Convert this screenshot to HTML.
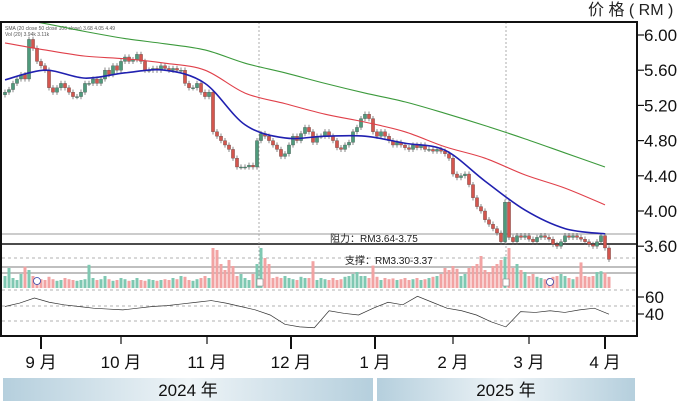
<!DOCTYPE html>
<html><head><meta charset="utf-8">
<style>
html,body{margin:0;padding:0;background:#fff;}
svg{display:block;font-family:"Liberation Sans","Noto Sans CJK SC",sans-serif;}
</style></head>
<body>
<svg id="chart" width="681" height="401" viewBox="0 0 681 401">
<defs>
<linearGradient id="yb" x1="0" x2="1" y1="0" y2="0">
<stop offset="0" stop-color="#b5cfdd"/><stop offset="0.5" stop-color="#eef4f7"/><stop offset="1" stop-color="#b5cfdd"/>
</linearGradient>
<clipPath id="pc"><rect x="2" y="22" width="635" height="268"/></clipPath>
</defs>
<text x="588" y="15" font-size="16" fill="#222">价 格 ( RM )</text>
<g id="grid"></g>
<g id="vol"></g>
<g id="candles" clip-path="url(#pc)"></g>
<g id="mas" clip-path="url(#pc)"></g>
<g id="rsi"></g>
<g id="axes"></g>
</svg>
<script>
const closes=[5.35,5.38,5.45,5.5,5.55,5.5,5.95,5.85,5.7,5.65,
5.6,5.4,5.35,5.4,5.45,5.4,5.35,5.3,5.3,5.35,
5.45,5.45,5.5,5.45,5.5,5.6,5.55,5.65,5.6,5.7,
5.75,5.7,5.72,5.78,5.7,5.6,5.6,5.62,5.6,5.65,
5.62,5.6,5.62,5.6,5.6,5.45,5.4,5.4,5.45,5.35,
5.3,5.35,4.9,4.85,4.8,4.75,4.7,4.6,4.5,4.5,
4.5,4.52,4.5,4.8,4.88,4.85,4.8,4.75,4.7,4.62,
4.65,4.75,4.85,4.8,4.88,4.95,4.9,4.78,4.85,4.85,
4.9,4.85,4.8,4.72,4.7,4.75,4.78,4.9,4.95,5.05,
5.1,5.05,4.9,4.85,4.9,4.85,4.8,4.75,4.78,4.75,
4.72,4.7,4.75,4.72,4.75,4.7,4.7,4.68,4.7,4.68,
4.65,4.6,4.42,4.38,4.4,4.42,4.3,4.15,4.05,4.0,
3.9,3.85,3.8,3.75,3.65,4.1,3.7,3.65,3.72,3.7,
3.72,3.68,3.65,3.7,3.72,3.7,3.68,3.62,3.6,3.65,
3.72,3.7,3.72,3.7,3.68,3.65,3.62,3.6,3.65,3.72,
3.58,3.45];
const volumes=[30,50,25,20,35,53,45,30,25,22,
20,28,22,18,20,25,22,20,18,20,
22,58,25,20,22,30,22,18,20,25,
22,18,20,25,20,18,22,20,18,20,
22,20,25,22,30,28,20,18,22,25,
30,25,100,95,60,45,70,55,30,35,
25,20,35,60,100,75,60,25,28,25,
30,25,22,20,28,25,25,67,20,25,
22,20,25,20,22,28,30,35,40,30,
30,25,56,28,20,25,22,24,20,22,
25,20,22,25,20,22,25,28,30,35,
50,45,55,48,30,35,50,55,60,80,
45,40,55,60,70,78,100,50,60,45,
40,30,35,28,25,22,25,28,30,35,
30,25,22,28,64,30,28,30,40,42,
38,28];
const maBlue=[5.49,5.6,5.51,5.57,5.6,5.45,4.98,4.83,4.85,4.85,4.77,4.69,4.34,4.01,3.8,3.74];
const maRed=[5.91,5.83,5.76,5.73,5.68,5.6,5.34,5.22,5.1,5.01,4.9,4.73,4.6,4.41,4.26,4.07];
const maGreen=[6.2,6.13,6.04,5.96,5.9,5.83,5.68,5.57,5.45,5.34,5.24,5.11,4.97,4.82,4.66,4.5];
const rsiVals=[50,54,60,55,52,50,48,47,46,48,50,51,53,55,57,54,50,46,40,29,26,25,45,42,40,48,55,52,62,55,48,45,40,32,26,44,43,45,43,46,48,41];
const priceTicks=["6.00","5.60","5.20","4.80","4.40","4.00","3.60"];
const priceTickVals=[6.0,5.6,5.2,4.8,4.4,4.0,3.6];
const rsiTicks=["60","40"];
const rsiTickVals=[60,40];
const months=["9 月","10 月","11 月","12 月","1 月","2 月","3 月","4 月"];
const monthIdx=[9,29,50.5,71.5,92.5,112,131,150];

const NS="http://www.w3.org/2000/svg";
function mk(tag,attrs,parent){const e=document.createElementNS(NS,tag);for(const k in attrs)e.setAttribute(k,attrs[k]);parent.appendChild(e);return e;}
const xOf=i=>5+i*4;
const yP=p=>35+(6-p)*88;
const yV=v=>288-v*0.4;
const yR=r=>306.5-(r-50)*0.85;
const G=id=>document.getElementById(id);
function smoothPath(pts){
 let d='M'+pts[0][0]+','+pts[0][1];
 for(let i=0;i<pts.length-1;i++){
  const p0=pts[i-1]||pts[i],p1=pts[i],p2=pts[i+1],p3=pts[i+2]||p2;
  const c1=[p1[0]+(p2[0]-p0[0])/6,p1[1]+(p2[1]-p0[1])/6];
  const c2=[p2[0]-(p3[0]-p1[0])/6,p2[1]-(p3[1]-p1[1])/6];
  d+=' C'+c1.join(',')+' '+c2.join(',')+' '+p2.join(',');
 }
 return d;
}

const grid=G('grid');
[[234,"#777",0.8],[244,"#111",1.6],[267,"#555",0.8],[273,"#555",0.8]].forEach(l=>{
 const e=mk('line',{x1:0,x2:637,y1:l[0],y2:l[0],stroke:l[1],'stroke-width':l[2]},grid);
 
 
});
[258,290,306,321].forEach(y=>{
 const e=mk('line',{x1:2,x2:637,y1:y,y2:y,stroke:'#999','stroke-width':0.7,'stroke-dasharray':'3,3'},grid);
 
 
});
[259,506].forEach(x=>{
 const e=mk('line',{x1:x,x2:x,y1:22,y2:290,stroke:'#999','stroke-width':0.8,'stroke-dasharray':'2,2'},grid);
 
 
});
let t=mk('text',{x:330,y:242,'font-size':10,fill:'#222'},grid);t.textContent='阻力：RM3.64-3.75';


t=mk('text',{x:345,y:264,'font-size':10,fill:'#222'},grid);t.textContent='支撑：RM3.30-3.37';


t=mk('text',{x:5,y:30,'font-size':5,fill:'#555'},grid);t.textContent='SMA (20 close 50 close 100 close) 3.68 4.05 4.49';


t=mk('text',{x:5,y:36,'font-size':5,fill:'#555'},grid);t.textContent='Vol (20) 3.94k 3.11k';



const vg=G('vol'),cg=G('candles');
closes.forEach((c,i)=>{
 const o=i===0?c-0.03:closes[i-1];
 const up=c>=o;
 const x=xOf(i);
 const vb=mk('rect',{x:x-1.5,width:3,y:yV(volumes[i]),height:288-yV(volumes[i]),fill:up?'#7fc8b2':'#f2a3a3'},vg);
 
 
 const hi=Math.max(o,c)+0.03,lo=Math.min(o,c)-0.03;
 const w=mk('line',{x1:x,x2:x,y1:yP(hi),y2:yP(lo),stroke:'#555','stroke-width':0.7},cg);
 
 
 const top=yP(Math.max(o,c)),h=Math.max(1,yP(Math.min(o,c))-top);
 const b=mk('rect',{x:x-1.6,width:3.2,y:top,height:h,fill:up?'#4f9a7c':'#d4564e',stroke:'#444','stroke-width':0.3},cg);
 
 
});
[[37,281],[550,282]].forEach(m=>{
 const c=mk('circle',{cx:m[0],cy:m[1],r:3.5,fill:'#fff',stroke:'#3344aa','stroke-width':0.8},vg);
 
 
});
[260,506].forEach(x=>{
 const r=mk('rect',{x:x-3,y:279,width:6,height:7,fill:'#fff',stroke:'#888','stroke-width':0.6},vg);
 
 
});

const mg=G('mas');
[[maGreen,'#3c9a3c','ma-100-line',1.1],[maRed,'#e0404a','ma-50-line',1.1],[maBlue,'#2020b0','ma-20-line',1.6]].forEach(s=>{
 const pts=s[0].map((v,k)=>[xOf(k*10),yP(v)]);
 const p=mk('path',{d:smoothPath(pts),fill:'none',stroke:s[1],'stroke-width':s[3]},mg);
 
 
});

const rg=G('rsi');
const rp=rsiVals.map((v,k)=>xOf(k*151/(rsiVals.length-1))+','+yR(v)).join(' ');
const rl=mk('polyline',{points:rp,fill:'none',stroke:'#333','stroke-width':0.7},rg);



const ag=G('axes');
const fr=mk('rect',{x:1,y:22,width:636,height:314,fill:'none',stroke:'#111','stroke-width':2},ag);


priceTicks.forEach((lab,k)=>{
 const y=yP(priceTickVals[k]);
 mk('line',{x1:637,x2:644,y1:y,y2:y,stroke:'#111','stroke-width':1.2},ag);
 const tx=mk('text',{x:644,y:y+6,'font-size':17,fill:'#111'},ag);tx.textContent=lab;
 
 
});
rsiTicks.forEach((lab,k)=>{
 const y=yR(rsiTickVals[k])-1;
 mk('line',{x1:637,x2:644,y1:y,y2:y,stroke:'#111','stroke-width':1.2},ag);
 const tx=mk('text',{x:645,y:y+6,'font-size':17,fill:'#111'},ag);tx.textContent=lab;
 
 
});
months.forEach((m,k)=>{
 const x=xOf(monthIdx[k]);
 const long=(k==0||k==3||k==4||k==7);
 mk('line',{x1:x,x2:x,y1:336,y2:long?349:344,stroke:'#111','stroke-width':long?2:1.2},ag);
 const tx=mk('text',{x:x,y:368,'font-size':17,fill:'#111','text-anchor':'middle'},ag);tx.textContent=m;
 
 
});
const y1=mk('rect',{x:3,y:378,width:370,height:23,fill:'url(#yb)'},ag);


const y2=mk('rect',{x:377,y:378,width:258,height:23,fill:'url(#yb)'},ag);


t=mk('text',{x:188,y:396,'font-size':17,fill:'#111','text-anchor':'middle'},ag);t.textContent='2024 年';


t=mk('text',{x:506,y:396,'font-size':17,fill:'#111','text-anchor':'middle'},ag);t.textContent='2025 年';


</script>
</body></html>
